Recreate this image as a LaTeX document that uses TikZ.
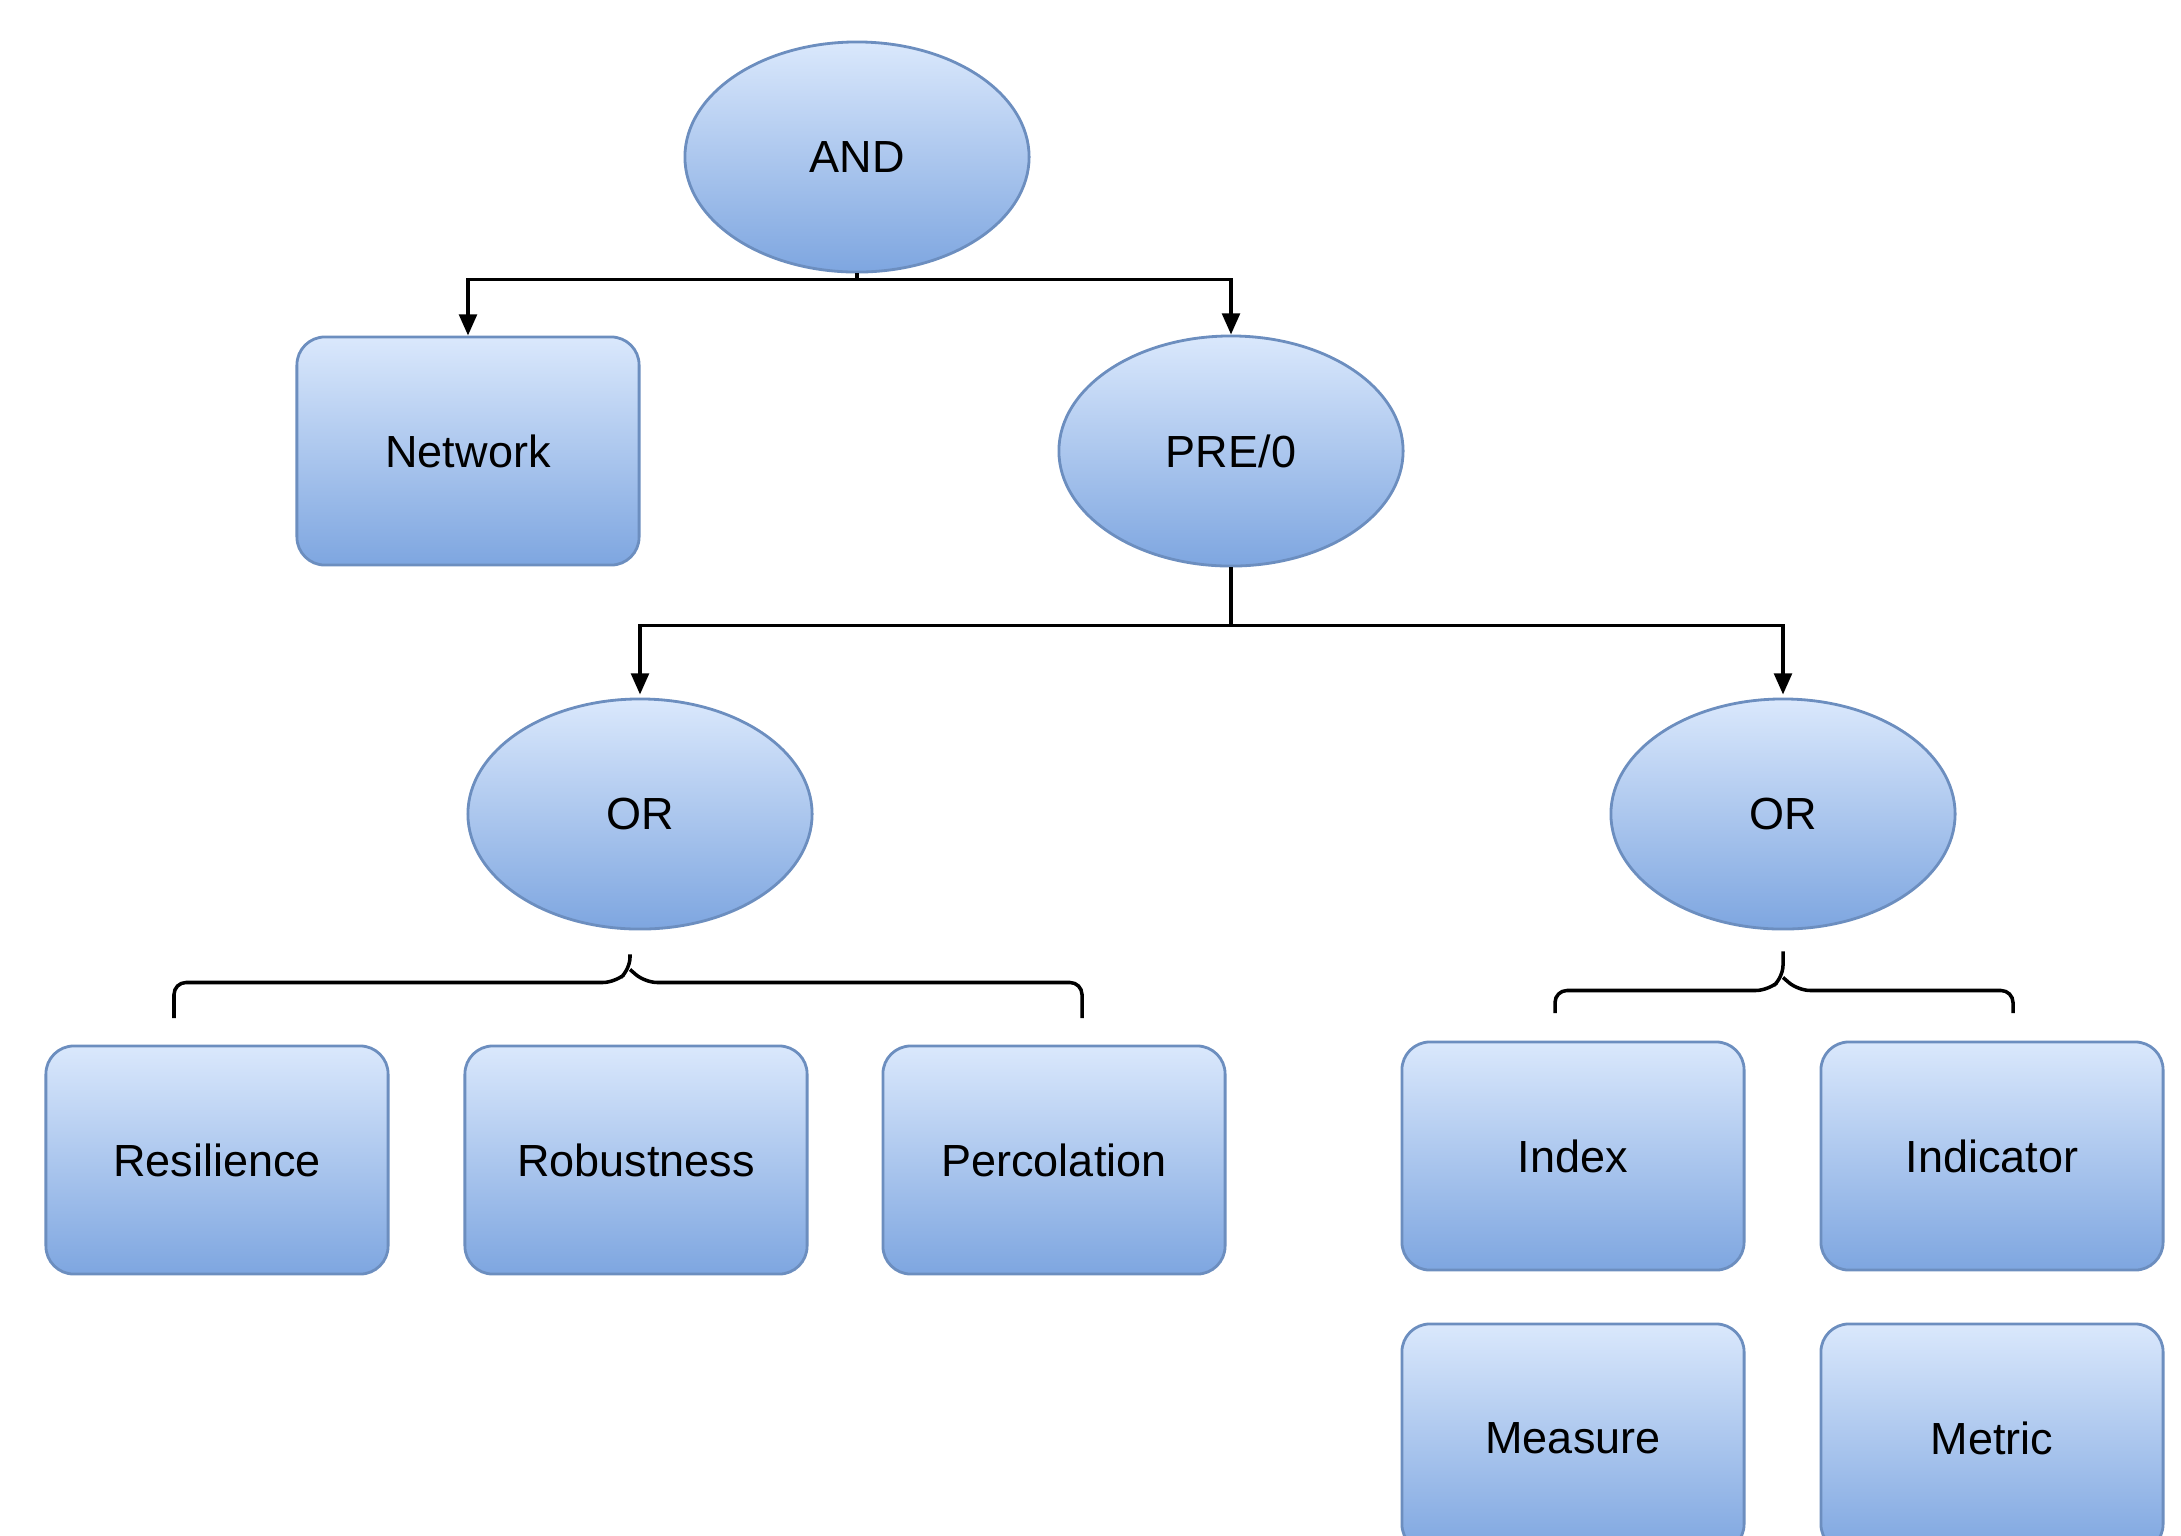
\documentclass[tikz,border=0pt]{standalone}
\usepackage{fontspec}
\setmainfont{Liberation Sans}
\usepackage{tikz}
\usetikzlibrary{shapes, positioning, arrows.meta, calc}
\definecolor{topblue}{HTML}{DAE8FC}
\definecolor{botblue}{HTML}{7EA6E0}
\definecolor{lineblue}{HTML}{6C8EBF}

\begin{document}
\begin{tikzpicture}[x=0.01cm, y=-0.01cm,
        gate/.style={ellipse, draw=lineblue, line width=0.8pt, top color=topblue, bottom color=botblue,
            minimum width=3.44cm, minimum height=2.3cm, font=\fontsize{12.8}{15}\selectfont},
        leaf/.style={rectangle, rounded corners=0.28cm, draw=lineblue, line width=0.8pt, top color=topblue,
            bottom color=botblue, minimum width=3.42cm, minimum height=2.28cm, font=\fontsize{12.8}{15}\selectfont},
        arr/.style={-{Triangle[width=5pt, length=6pt]}, line width=1pt},
        brace/.style={line width=1pt, rounded corners=0.12cm}]
        \path[use as bounding box, clip] (0,0) rectangle (2181,1535);

        \node[gate] (and) at (857,157) {AND};
        \node[leaf] (net) at (468,451) {Network};
        \node[gate] (pre) at (1231,451) {PRE/0};
        \node[gate] (orl) at (640,814) {OR};
        \node[gate] (orr) at (1783,814) {OR};

        \node[leaf] (res) at (217,1160) {Resilience};
        \node[leaf] (rob) at (636,1160) {Robustness};
        \node[leaf] (per) at (1054,1160) {Percolation};
        \node[leaf] (idx) at (1573,1156) {Index};
        \node[leaf] (ind) at (1992,1156) {Indicator};
        \node[leaf] (mea) at (1573,1438) {Measure};
        \node[leaf] (met) at (1992,1438) {Metric};

        % AND splits into network and PRE/0
        \coordinate (j1) at ($(and.south)+(0,6)$);
        \draw[line width=1pt] (and.south) -- (j1);
        \draw[arr] (j1) -| (net.north);
        \draw[arr] (j1) -| (pre.north);

        \coordinate (j2) at ($(pre.south)+(0,58)$);
        \draw[line width=1pt] (pre.south) -- (j2);
        \draw[arr] (j2) -| ($(orl.north)+(0,-3)$);
        \draw[arr] (j2) -| ($(orr.north)+(0,-3)$);

        % braces under the OR gates
        \coordinate (bl) at ($(orl.south)+(-10,24)$);
        \draw[brace] (bl) -- ++(0,15) -- ++(-15,13) -| (174,1018);
        \draw[brace] ($(bl)+(0,15)$) -- ++(15,13) -| (1082,1018);
        \coordinate (br) at ($(orr.south)+(0,21)$);
        \draw[brace] (br) -- ++(0,26) -- ++(-15,13) -| (1555,1013);
        \draw[brace] ($(br)+(0,26)$) -- ++(15,13) -| (2013,1013);
\end{tikzpicture}
\end{document}
